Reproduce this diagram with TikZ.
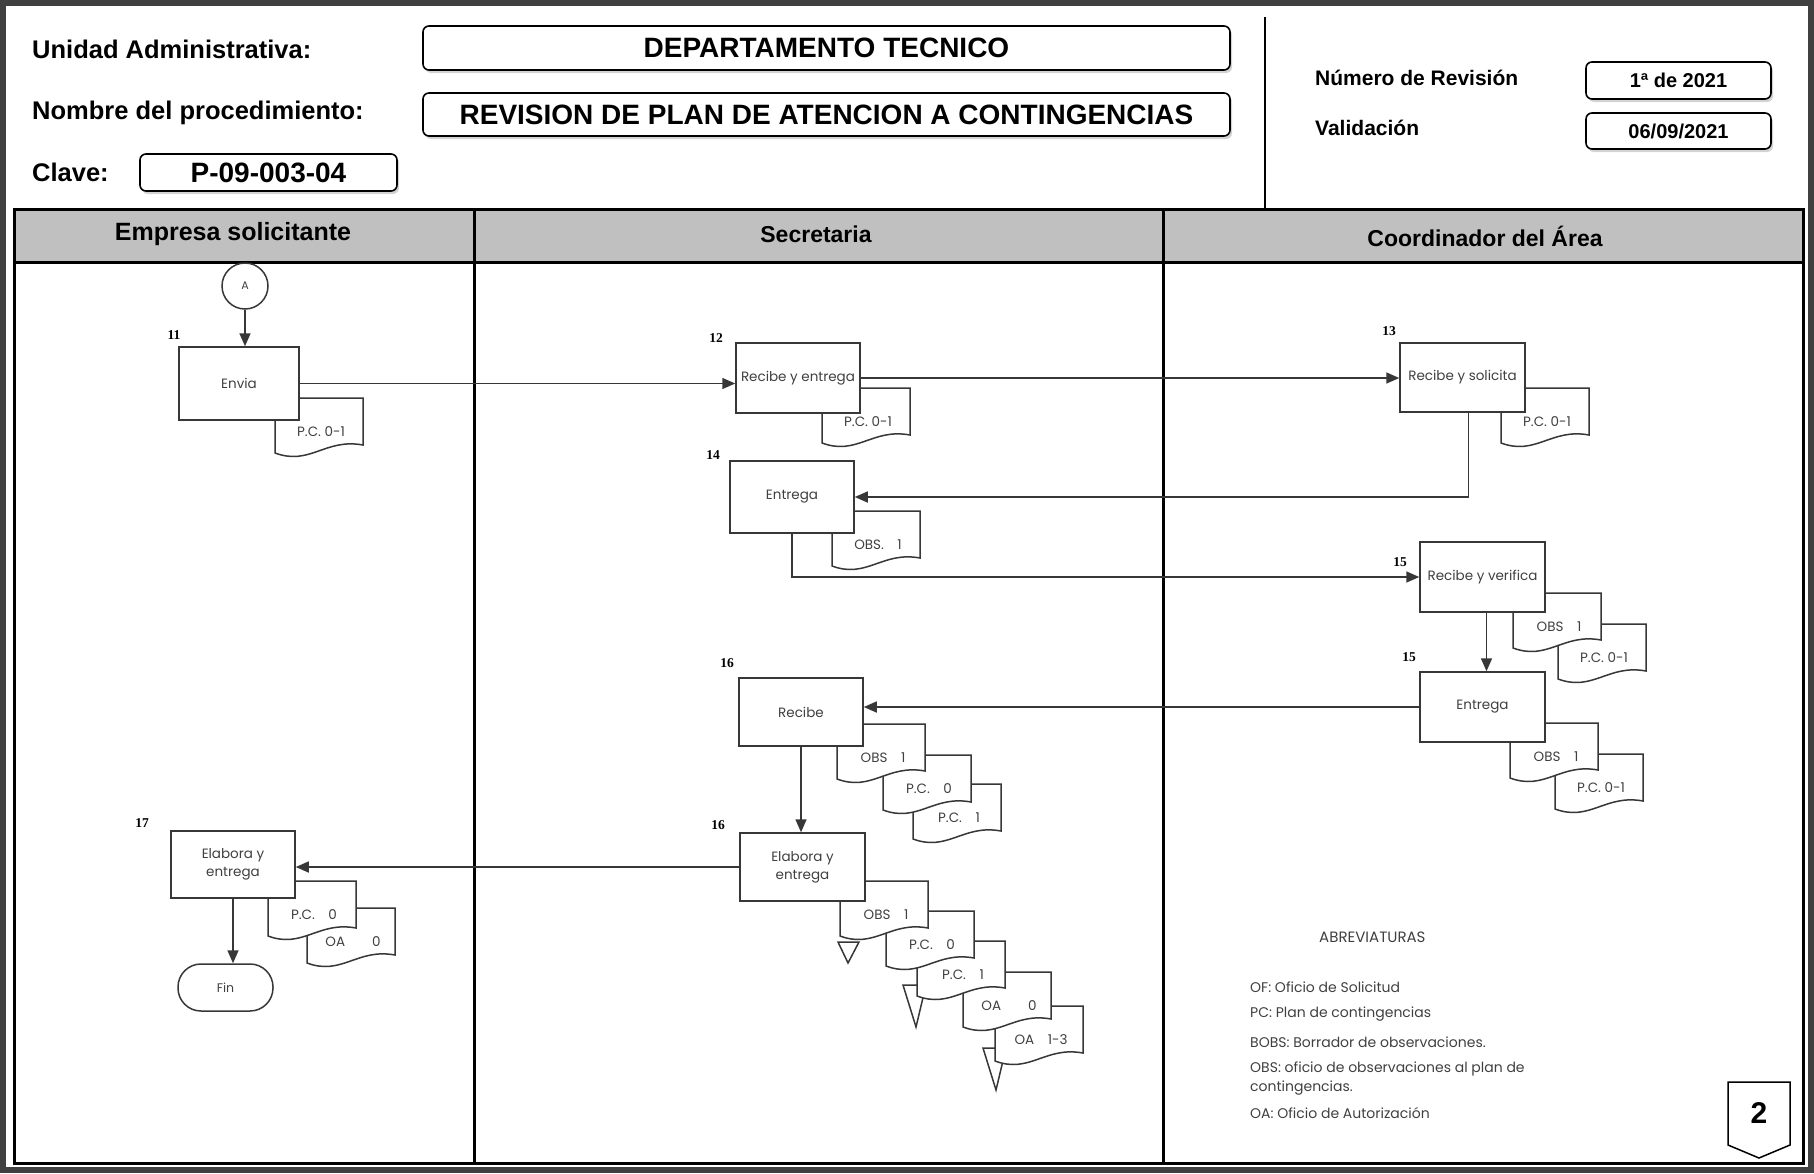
\documentclass[tikz,border=0pt]{standalone}
\usepackage{fontspec}
\setmainfont{Liberation Sans}
\newfontfamily\flowfont{Poppins}
\newfontfamily\numfont{Liberation Serif}
\usetikzlibrary{arrows.meta,shadows}

\definecolor{laneGray}{RGB}{192,192,192}
\definecolor{inkGray}{RGB}{55,55,55}
\newcommand{\fsz}[2]{\fontsize{#1}{#2}\selectfont}

%Document symbol: name, x, y (top left corner), text
\newcommand{\docu}[4]{%
  \path[docline] (#2,#3) -- (#2+88,#3) -- (#2+88,#3+47)
    .. controls (#2+50,#3+40) and (#2+35,#3+68) .. (#2,#3+55) -- cycle;
  \node[doctxt] (#1) at (#2+46,#3+34) {#4};}

\tikzset{
  hdrbox/.style={draw,line width=1.6pt,rounded corners=6pt,fill=white,
    drop shadow={shadow xshift=2pt,shadow yshift=-3pt,opacity=0.35},
    font=\bfseries\fsz{28}{32}},
  hdrlabel/.style={anchor=west,inner sep=0pt,font=\bfseries\fsz{25.5}{30}},
  lanetitle/.style={font=\bfseries\fsz{23}{27}},
  proc/.style={draw=inkGray,line width=1.5pt,fill=white,minimum width=124pt,
    minimum height=70pt,inner sep=1pt,align=center,
    font=\flowfont\fsz{13.5}{18},text=black!75},
  stepnum/.style={font=\numfont\bfseries\fsz{13.5}{15}},
  doctxt/.style={font=\flowfont\fsz{13.5}{15},text=black!75},
  docline/.style={draw=inkGray,line width=1.5pt,fill=white},
  flow/.style={draw=inkGray,line width=1.6pt,-{Triangle[length=13pt,width=11pt]}},
  abbr/.style={anchor=west,inner sep=0pt,align=left,
    font=\flowfont\fsz{14}{19},text=black!75}
}

\begin{document}
\begin{tikzpicture}[x=1pt,y=-1pt]
\useasboundingbox (0,0) rectangle (1814,1173);

%Outer frame
\draw[line width=6pt,black!75] (3,3) rectangle (1811,1170);

%Header data
\node[hdrlabel] (lblUnidad) at (32,49) {Unidad Administrativa:};
\node[hdrlabel] (lblNombre) at (32,113) {Nombre del procedimiento:};
\node[hdrlabel] (lblClave) at (32,172) {Clave:};
\node[hdrbox,minimum width=807pt,minimum height=44pt] (unidad) at (826.5,48) {DEPARTAMENTO TECNICO};
\node[hdrbox,minimum width=807pt,minimum height=43pt] (nombre) at (826.5,114.5) {REVISION DE PLAN DE ATENCION A CONTINGENCIAS};
\node[hdrbox,minimum width=257pt,minimum height=37pt] (clave) at (268.5,172.5) {P-09-003-04};
\draw[line width=1.5pt] (1265,17) -- (1265,208);
\node[hdrlabel,font=\bfseries\fsz{21}{25}] (lblRev) at (1315,78) {Número de Revisión};
\node[hdrlabel,font=\bfseries\fsz{21}{25}] (lblVal) at (1315,128) {Validación};
\node[hdrbox,font=\bfseries\fsz{20}{24},minimum width=185pt,minimum height=37pt] (rev) at (1678.5,80.5) {1ª de 2021};
\node[hdrbox,font=\bfseries\fsz{20}{24},minimum width=185pt,minimum height=36pt] (val) at (1678.5,131) {06/09/2021};

%Swimlanes
\fill[laneGray] (14,209) rectangle (1803,262);
\draw[line width=3pt] (14,209) rectangle (1803,1163);
\draw[line width=3pt] (14,262) -- (1803,262);
\foreach \xl in {474,1163}
  \draw[line width=3pt] (\xl,209) -- (\xl,1163);
\node[lanetitle,font=\bfseries\fsz{25}{30}] (laneEmp) at (233,234) {Empresa solicitante};
\node[lanetitle] (laneSec) at (816,234) {Secretaria};
\node[lanetitle] (laneCoo) at (1485,236) {Coordinador del Área};

%Archive triangles
\path[docline] (838,942) -- (859,942) -- (848,963) -- cycle;
\path[docline] (903,985) -- (926,985) -- (916,1027) -- cycle;
\path[docline] (983,1048) -- (1006,1048) -- (996,1090) -- cycle;

%Documents (last of a stack first)
\docu{d11}{275}{398}{P.C. 0-1}
\docu{d12}{822}{388}{P.C. 0-1}
\docu{d13}{1501}{388}{P.C. 0-1}
\docu{d14}{832}{511}{OBS.\quad 1}
\docu{d15b}{1558}{624}{P.C. 0-1}
\docu{d15a}{1513}{593}{OBS\quad 1}
\docu{d15d}{1555}{754}{P.C. 0-1}
\docu{d15c}{1510}{723}{OBS\quad 1}
\docu{d16c}{913}{784}{P.C.\quad 1}
\docu{d16b}{883}{755}{P.C.\quad 0}
\docu{d16a}{837}{724}{OBS\quad 1}
\docu{d16h}{995}{1006}{OA\quad 1-3}
\docu{d16g}{963}{972}{OA\qquad 0}
\docu{d16f}{917}{941}{P.C.\quad 1}
\docu{d16e}{886}{911}{P.C.\quad 0}
\docu{d16d}{840}{881}{OBS\quad 1}
\docu{d17b}{307}{908}{OA\qquad 0}
\docu{d17a}{268}{881}{P.C.\quad 0}

%Steps
\node[circle,draw=inkGray,line width=1.5pt,fill=white,minimum size=46pt,inner sep=0pt,
  font=\flowfont\fsz{11}{13},text=black!75] (conA) at (245,286) {A};
\node[proc,minimum width=120pt,minimum height=73pt] (b11) at (239,383.5) {Envia};
\node[proc] (b12) at (798,378) {Recibe y entrega};
\node[proc,minimum width=125pt,minimum height=69pt] (b13) at (1462.5,377.5) {Recibe y solicita};
\node[proc,minimum height=72pt] (b14) at (792,497) {Entrega};
\node[proc,minimum width=125pt] (b15) at (1482.5,577) {Recibe y verifica};
\node[proc,minimum width=125pt] (b15e) at (1482.5,707) {Entrega};
\node[proc,minimum height=68pt] (b16) at (801,712) {Recibe};
\node[proc,minimum width=125pt,minimum height=68pt] (b16e) at (802.5,867) {Elabora y\\entrega};
\node[proc,minimum height=67pt] (b17) at (233,864.5) {Elabora y\\entrega};
\node[draw=inkGray,line width=1.5pt,rounded corners=23pt,minimum width=95pt,minimum height=47pt,
  font=\flowfont\fsz{12.5}{14},text=black!75] (fin) at (225.5,987.5) {Fin};

%Step numbers
\node[stepnum] (n11) at (174,335) {11};
\node[stepnum] (n12) at (716,338) {12};
\node[stepnum] (n13) at (1389,331) {13};
\node[stepnum] (n14) at (713,455) {14};
\node[stepnum] (n15) at (1400,562) {15};
\node[stepnum] (n15e) at (1409,657) {15};
\node[stepnum] (n16) at (727,663) {16};
\node[stepnum] (n16e) at (718,825) {16};
\node[stepnum] (n17) at (142,823) {17};

%Connectors
\draw[flow] (conA.south) -- (conA.south |- b11.north);
\draw[flow] (b11.east) -- (b11.east -| b12.west);
\draw[flow] (b12.east) -- (b12.east -| b13.west);
\draw[flow] ([xshift=6pt]b13.south) |- (b14.east);
\draw[flow] (b14.south) |- (b15.west);
\draw[flow] ([xshift=4pt]b15.south) -- ([xshift=4pt]b15e.north);
\draw[flow] (b15e.west) -- (b15e.west -| b16.east);
\draw[flow] (b16.south) -- (b16.south |- b16e.north);
\draw[flow] (b16e.west) -- (b16e.west -| b17.east);
\draw[flow] (b17.south) -- (b17.south |- fin.north);

%Abbreviations
\node[abbr,font=\flowfont\fsz{15}{19}] (abTitle) at (1319,937) {ABREVIATURAS};
\node[abbr] (abOF) at (1250,987) {OF: Oficio de Solicitud};
\node[abbr] (abPC) at (1250,1014) {PC: Plan de contingencias};
\node[abbr] (abBOBS) at (1250,1042) {BOBS: Borrador de observaciones.};
\node[abbr] (abOBS) at (1250,1078.5) {OBS: oficio de observaciones al plan de\\contingencias.};
\node[abbr] (abOA) at (1250,1113) {OA: Oficio de Autorización};

%Page mark
\draw[line width=1.5pt,fill=white] (1728,1082) -- (1790,1082) -- (1790,1145) -- (1759,1158) -- (1728,1145) -- cycle;
\node[font=\bfseries\fsz{30}{34}] (page) at (1759,1113) {2};
\end{tikzpicture}
\end{document}
